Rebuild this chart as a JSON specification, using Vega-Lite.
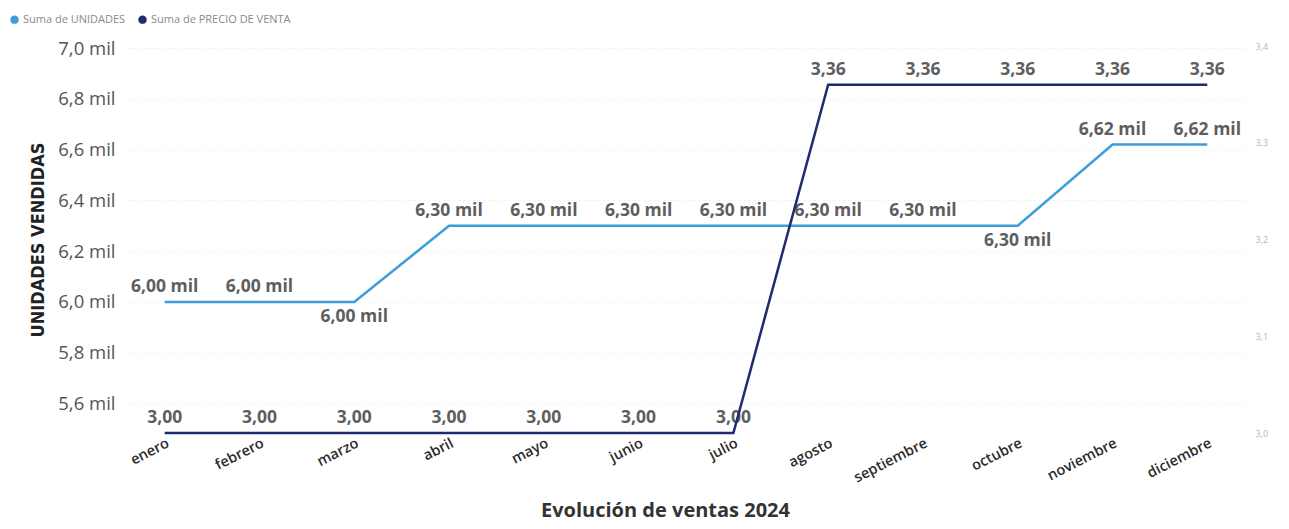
{
  "$schema": "https://vega.github.io/schema/vega-lite/v6.json",
  "autosize": "none",
  "width": 1126,
  "height": 387,
  "padding": {"left": 123, "top": 46, "right": 40, "bottom": 96},
  "background": "white",
  "data": {
    "values": [
      {"mes": "enero", "unidades": 6000, "precio": 3.00},
      {"mes": "febrero", "unidades": 6000, "precio": 3.00},
      {"mes": "marzo", "unidades": 6000, "precio": 3.00},
      {"mes": "abril", "unidades": 6300, "precio": 3.00},
      {"mes": "mayo", "unidades": 6300, "precio": 3.00},
      {"mes": "junio", "unidades": 6300, "precio": 3.00},
      {"mes": "julio", "unidades": 6300, "precio": 3.00},
      {"mes": "agosto", "unidades": 6300, "precio": 3.36},
      {"mes": "septiembre", "unidades": 6300, "precio": 3.36},
      {"mes": "octubre", "unidades": 6300, "precio": 3.36},
      {"mes": "noviembre", "unidades": 6620, "precio": 3.36},
      {"mes": "diciembre", "unidades": 6620, "precio": 3.36}
    ]
  },
  "transform": [
    {"calculate": "replace(format(datum.unidades / 1000, '.2f'), '.', ',') + ' mil'", "as": "etiqueta_unidades"},
    {"calculate": "replace(format(datum.precio, '.2f'), '.', ',')", "as": "etiqueta_precio"}
  ],
  "encoding": {
    "x": {
      "field": "mes",
      "type": "ordinal",
      "sort": ["enero", "febrero", "marzo", "abril", "mayo", "junio", "julio", "agosto", "septiembre", "octubre", "noviembre", "diciembre"],
      "scale": {"type": "point", "padding": 0.44},
      "axis": {
        "title": "Evolución de ventas 2024",
        "titleFont": "Open Sans",
        "titleFontSize": 20,
        "titleFontWeight": "bold",
        "titleColor": "#333333",
        "titleX": 542,
        "titleY": 77,
        "titleBaseline": "middle",
        "labelAngle": -27,
        "labelAlign": "right",
        "labelBaseline": "top",
        "labelFont": "Open Sans",
        "labelFontSize": 14.5,
        "labelFontWeight": 600,
        "labelColor": "#2b2b2b",
        "labelPadding": 3,
        "domain": false,
        "ticks": false,
        "grid": false
      }
    }
  },
  "layer": [
    {
      "encoding": {
        "y": {
          "field": "unidades",
          "type": "quantitative",
          "scale": {"domain": [5484, 7008], "nice": false, "zero": false},
          "axis": {
            "title": "UNIDADES VENDIDAS",
            "titleFont": "DejaVu Sans Condensed",
            "titleFontSize": 18,
            "titleFontWeight": "bold",
            "titleColor": "#222222",
            "titlePadding": 10,
            "values": [5600, 5800, 6000, 6200, 6400, 6600, 6800, 7000],
            "labelExpr": "replace(format(datum.value / 1000, '.1f'), '.', ',') + ' mil'",
            "labelFont": "Open Sans",
            "labelFontSize": 18.5,
            "labelColor": "#555555",
            "labelPadding": 8,
            "domain": false,
            "ticks": false,
            "grid": true,
            "gridColor": "#eeeeee",
            "gridDash": [2, 3]
          }
        }
      },
      "layer": [
        {
          "transform": [{"filter": "datum.mes != 'marzo' && datum.mes != 'octubre'"}],
          "mark": {"type": "text", "font": "Open Sans", "fontSize": 17.5, "fontWeight": "bold", "color": "#5e5e5e", "baseline": "bottom", "dy": -6},
          "encoding": {"text": {"field": "etiqueta_unidades"}}
        },
        {
          "transform": [{"filter": "datum.mes == 'marzo' || datum.mes == 'octubre'"}],
          "mark": {"type": "text", "font": "Open Sans", "fontSize": 17.5, "fontWeight": "bold", "color": "#5e5e5e", "baseline": "top", "dy": 6},
          "encoding": {"text": {"field": "etiqueta_unidades"}}
        },
        {
          "mark": {"type": "line", "strokeWidth": 2.5},
          "encoding": {
            "color": {
              "datum": "Suma de UNIDADES",
              "scale": {"domain": ["Suma de UNIDADES", "Suma de PRECIO DE VENTA"], "range": ["#3d9ddb", "#1f2b6e"]},
              "legend": {
                "title": null,
                "orient": "none",
                "legendX": -114,
                "legendY": -32,
                "direction": "horizontal",
                "symbolType": "circle",
                "symbolSize": 20,
                "symbolStrokeWidth": 4,
                "labelFont": "Open Sans",
                "labelFontSize": 11,
                "labelColor": "#8a8a8a",
                "labelOffset": 3,
                "columnPadding": 6
              }
            }
          }
        }
      ]
    },
    {
      "encoding": {
        "y": {
          "field": "precio",
          "type": "quantitative",
          "scale": {"domain": [3.0, 3.4], "nice": false, "zero": false},
          "axis": {
            "orient": "right",
            "title": null,
            "values": [3.0, 3.1, 3.2, 3.3, 3.4],
            "labelExpr": "replace(format(datum.value, '.1f'), '.', ',')",
            "labelFont": "Open Sans",
            "labelFontSize": 9,
            "labelColor": "#b5b5b5",
            "labelPadding": 6,
            "domain": false,
            "ticks": false,
            "grid": false
          }
        }
      },
      "layer": [
        {
          "mark": {"type": "text", "font": "Open Sans", "fontSize": 17.5, "fontWeight": "bold", "color": "#5e5e5e", "baseline": "bottom", "dy": -6},
          "encoding": {"text": {"field": "etiqueta_precio"}}
        },
        {
          "mark": {"type": "line", "strokeWidth": 2.5},
          "encoding": {"color": {"datum": "Suma de PRECIO DE VENTA"}}
        }
      ]
    }
  ],
  "resolve": {"scale": {"y": "independent"}},
  "config": {
    "view": {"stroke": null},
    "legend": {"padding": 0}
  }
}
